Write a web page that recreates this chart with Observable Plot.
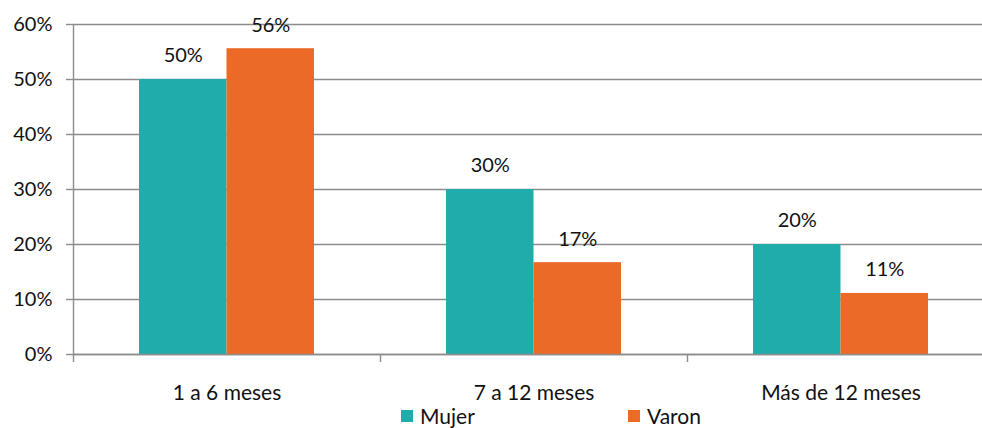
<!DOCTYPE html>
<html>
<head>
<meta charset="utf-8">
<script src="https://cdn.jsdelivr.net/npm/d3@7"></script>
<script src="https://cdn.jsdelivr.net/npm/@observablehq/plot@0.6"></script>
<style>
  html, body { margin: 0; background: #fff; font-family: Lato, "Open Sans", sans-serif; }
  #chart svg { display: block; }
  .legend { position: relative; height: 24px; width: 982px; font-size: 21px; color: #111; }
  .legend .item { position: absolute; top: 1px; display: flex; align-items: center; line-height: 21px; }
  .legend .swatch { width: 12px; height: 12px; margin-right: 7px; }
</style>
</head>
<body>
<div id="chart"></div>
<div class="legend" id="legend"></div>
<script>
// Tiempo transcurrido, por sexo
const categories = ["1 a 6 meses", "7 a 12 meses", "Más de 12 meses"];
const series = ["Mujer", "Varon"];
const mujer = [50, 30, 20];
const varon = [55.6, 16.7, 11.1];
const colors = ["#21ACAC", "#EC6A28"];
const yTicks = [0, 10, 20, 30, 40, 50, 60];

const rows = categories.flatMap((c, i) => [
  {cat: c, sex: series[0], v: mujer[i]},
  {cat: c, sex: series[1], v: varon[i]}
]);
const mujerRows = rows.filter(d => d.sex === series[0]);
const varonRows = rows.filter(d => d.sex === series[1]);

const fmt = d => Math.round(d) + "%";
const grid = "#8c8c8c";
const textStyle = {fontSize: 20, fill: "#111"};

const chart = Plot.plot({
  width: 982,
  height: 404,
  marginTop: 24,
  marginBottom: 50,
  marginLeft: 73,
  marginRight: 0,
  style: {fontFamily: "Lato, 'Open Sans', sans-serif", fontSize: "20px", background: "#fff", overflow: "hidden"},
  // the last band runs past the right edge of the drawing
  x: {domain: categories, padding: 0, range: [73, 994]},
  y: {domain: [0, 60], ticks: yTicks},
  marks: [
    // horizontal gridlines
    Plot.ruleY(yTicks, {stroke: grid, strokeWidth: 1.4}),
    // bars
    Plot.barY(mujerRows, {x: "cat", y: "v", fill: colors[0], insetLeft: 66, insetRight: 153.5}),
    Plot.barY(varonRows, {x: "cat", y: "v", fill: colors[1], insetLeft: 153.5, insetRight: 66}),
    // value labels
    Plot.text(mujerRows, {x: "cat", y: "v", text: d => fmt(d.v), dx: -43.75, dy: -23.5, ...textStyle}),
    Plot.text(varonRows, {x: "cat", y: "v", text: d => fmt(d.v), dx: 43.75, dy: -23.5, ...textStyle}),
    // vertical axis line and baseline
    Plot.ruleX([categories[0]], {x: d => d, dx: -153.5, y1: 0, y2: 60, stroke: grid, strokeWidth: 1.4}),
    Plot.ruleY([0], {stroke: grid, strokeWidth: 1.4}),
    // y axis
    Plot.axisY({ticks: yTicks, tickSize: 7, tickPadding: 14, tickFormat: d => d + "%", stroke: grid, strokeWidth: 1.4, strokeOpacity: 1, fontSize: 20, fill: "#111", label: null}),
    // category tick marks at band edges
    Plot.axisX({tickSize: 8, dx: -153.5, tickFormat: () => "", stroke: grid, strokeWidth: 1.4, strokeOpacity: 1, label: null}),
    // category labels
    Plot.axisX({tickSize: 0, tickPadding: 31, fontSize: 21, fill: "#111", label: null})
  ]
});
document.getElementById("chart").append(chart);

// legend
const legend = document.getElementById("legend");
const legendX = [401, 628];
series.forEach((s, i) => {
  const item = document.createElement("div");
  item.className = "item";
  item.style.left = legendX[i] + "px";
  const sw = document.createElement("span");
  sw.className = "swatch";
  sw.style.background = colors[i];
  const label = document.createElement("span");
  label.textContent = s;
  item.append(sw, label);
  legend.append(item);
});
</script>
</body>
</html>
